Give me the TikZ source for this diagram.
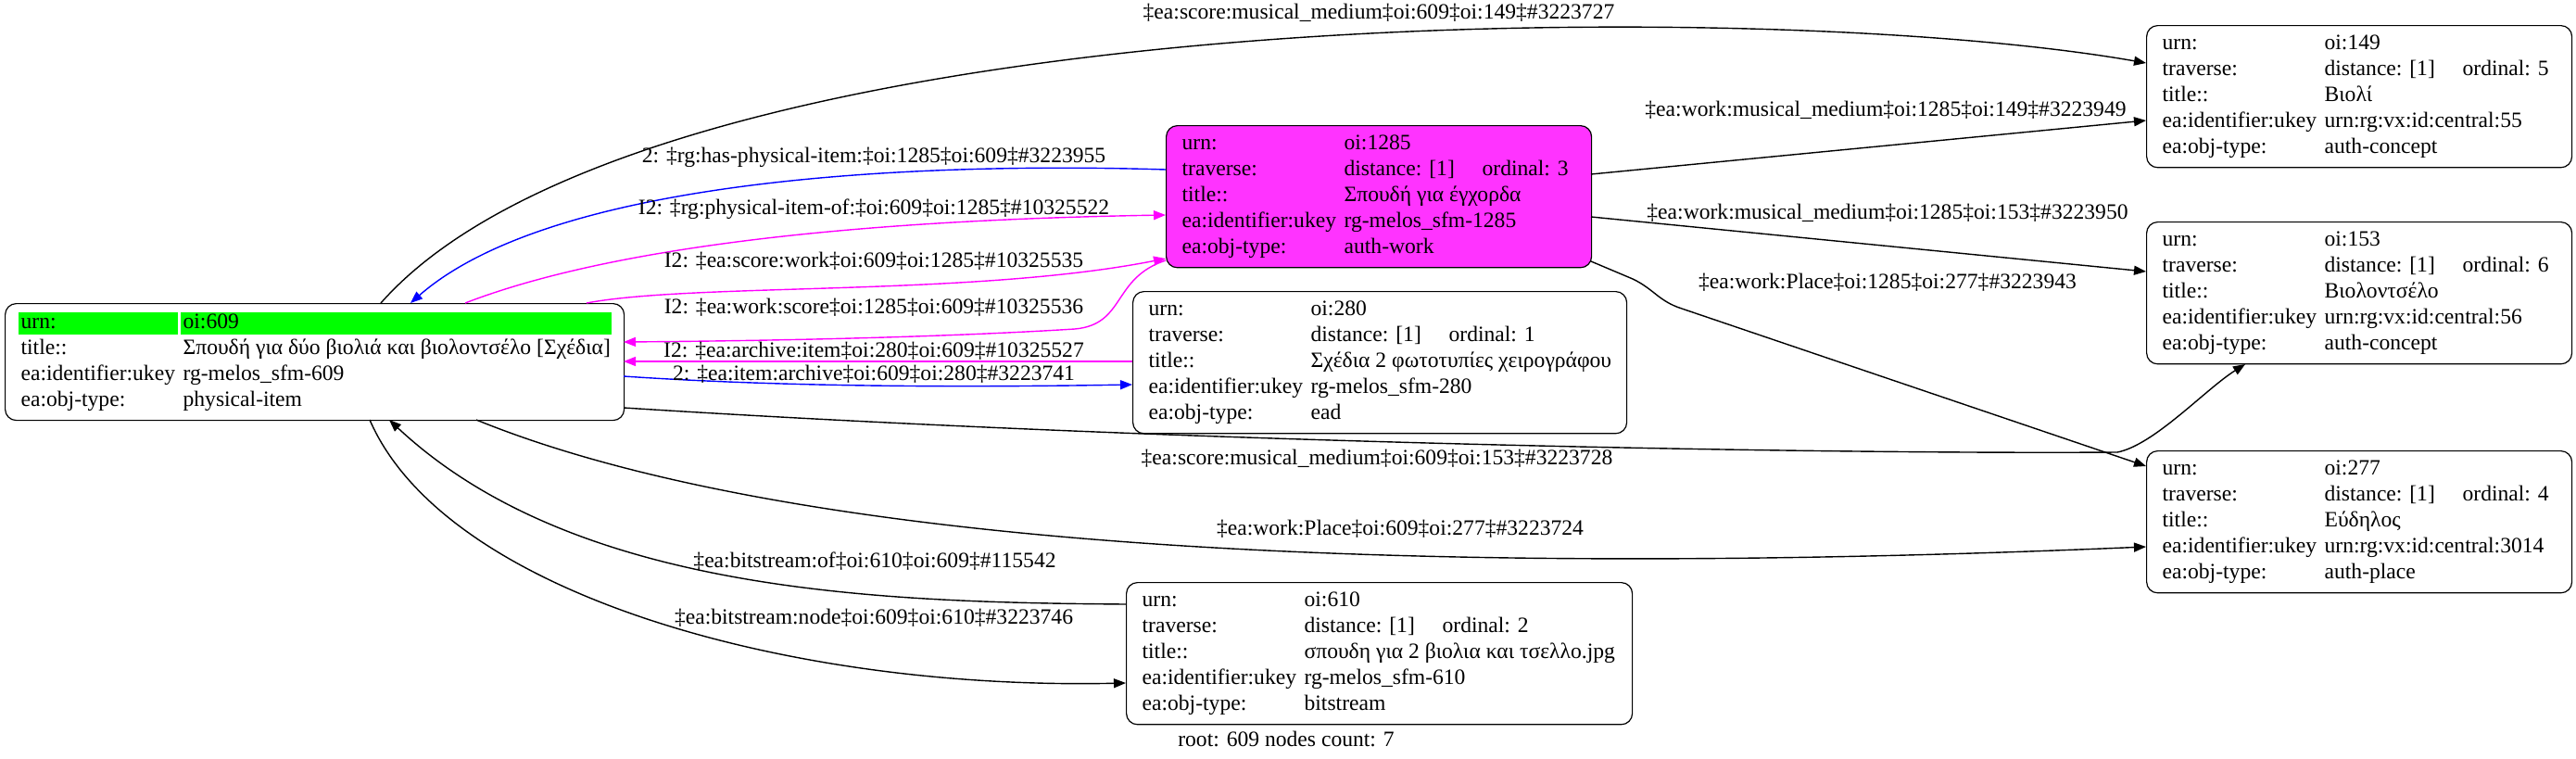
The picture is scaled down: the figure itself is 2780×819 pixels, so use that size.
\documentclass[tikz,border=0pt]{standalone}
\usepackage{fontspec}
\setmainfont{Liberation Serif}
\usepackage{array}
\usepackage{tikz}
\usetikzlibrary{calc,arrows.meta}
\definecolor{urngreen}{HTML}{00FF00}
\definecolor{workpink}{HTML}{FF33FF}
\definecolor{linkpink}{HTML}{FF00FF}
\definecolor{linkblue}{HTML}{0000FF}
\newcommand{\travrow}[1]{\makebox[74.5pt][l]{distance: [1]}ordinal: #1}
\newcommand{\greencell}[2]{{\fboxsep=0pt\colorbox{urngreen}{\makebox[#1][l]{\hspace*{1.5pt}\rule[-3.5pt]{0pt}{12pt}#2}}}}

\begin{document}
\begin{tikzpicture}[x=0.5pt,y=-0.5pt,
    record/.style={draw, rounded corners=6pt, line width=0.6pt, anchor=north west,
      inner xsep=8.5pt, inner ysep=3.3pt, font=\fontsize{11.8}{14}\selectfont},
    elabel/.style={inner sep=0pt, font=\fontsize{11.8}{14}\selectfont},
    link/.style={line width=0.7pt, -{Triangle[length=6.5pt,width=5pt]}}]
                \useasboundingbox (0,0) rectangle (2780,819);

                % Root record
                \node[record, inner xsep=7pt, inner ysep=3.5pt] (n609) at (5,327) {%
                  \begin{tabular}{@{}w{l}{86pt}@{\hspace{1.5pt}}w{l}{232.5pt}@{}}
                    \greencell{86pt}{urn:} & \greencell{232.5pt}{oi:609}\\
                    \hspace*{1.5pt}title:: & \hspace*{1.5pt}Σπουδή για δύο βιολιά και βιολοντσέλο [Σχέδια]\\
                    \hspace*{1.5pt}ea:identifier:ukey & \hspace*{1.5pt}rg-melos\_sfm-609\\
                    \hspace*{1.5pt}ea:obj-type: & \hspace*{1.5pt}physical-item
                  \end{tabular}};

                % Linked records
                \node[record, fill=workpink] (n1285) at (1258,135) {%
                  \begin{tabular}{@{}w{l}{87.5pt}@{}w{l}{125pt}@{}}
                    urn: & oi:1285\\
                    traverse: & \travrow{3}\\
                    title:: & Σπουδή για έγχορδα\\
                    ea:identifier:ukey & rg-melos\_sfm-1285\\
                    ea:obj-type: & auth-work
                  \end{tabular}};
                \node[record] (n280) at (1222,314) {%
                  \begin{tabular}{@{}w{l}{87.5pt}@{}w{l}{162pt}@{}}
                    urn: & oi:280\\
                    traverse: & \travrow{1}\\
                    title:: & Σχέδια 2 φωτοτυπίες χειρογράφου\\
                    ea:identifier:ukey & rg-melos\_sfm-280\\
                    ea:obj-type: & ead
                  \end{tabular}};
                \node[record] (n610) at (1215,628) {%
                  \begin{tabular}{@{}w{l}{87.5pt}@{}w{l}{168.5pt}@{}}
                    urn: & oi:610\\
                    traverse: & \travrow{2}\\
                    title:: & σπουδη για 2 βιολια και τσελλο.jpg\\
                    ea:identifier:ukey & rg-melos\_sfm-610\\
                    ea:obj-type: & bitstream
                  \end{tabular}};
                \node[record] (n149) at (2316,27) {%
                  \begin{tabular}{@{}w{l}{87.5pt}@{}w{l}{125pt}@{}}
                    urn: & oi:149\\
                    traverse: & \travrow{5}\\
                    title:: & Βιολί\\
                    ea:identifier:ukey & urn:rg:vx:id:central:55\\
                    ea:obj-type: & auth-concept
                  \end{tabular}};
                \node[record] (n153) at (2316,239) {%
                  \begin{tabular}{@{}w{l}{87.5pt}@{}w{l}{125pt}@{}}
                    urn: & oi:153\\
                    traverse: & \travrow{6}\\
                    title:: & Βιολοντσέλο\\
                    ea:identifier:ukey & urn:rg:vx:id:central:56\\
                    ea:obj-type: & auth-concept
                  \end{tabular}};
                \node[record] (n277) at (2316,486) {%
                  \begin{tabular}{@{}w{l}{87.5pt}@{}w{l}{125pt}@{}}
                    urn: & oi:277\\
                    traverse: & \travrow{4}\\
                    title:: & Εύδηλος\\
                    ea:identifier:ukey & urn:rg:vx:id:central:3014\\
                    ea:obj-type: & auth-place
                  \end{tabular}};

                % Links between 609 and 1285
                \draw[link, linkblue] ($(n1285.north west)+(0,48)$) .. controls (1000,175) and (600,190) .. ($(n609.north west)+(438,0)$);
                \draw[link, linkpink] ($(n609.north west)+(497,0)$) .. controls (650,270) and (900,238) .. ($(n1285.north west)+(0,97)$);
                \draw[link, linkpink] ($(n609.north west)+(628,0)$) .. controls (750,305) and (1050,320) .. ($(n1285.north west)+(0,144)$);
                \draw[link, linkpink] ($(n1285.north west)+(0,146)$) .. controls (1200,300) and (1215,350) .. (1160,355)
                    .. controls (1000,365) and (800,368) .. ($(n609.north west)+(668,42)$);

                % Links between 609 and 280
                \draw[link, linkpink] ($(n280.north west)+(0,76)$) -- ($(n609.north west)+(668,63)$);
                \draw[link, linkblue] ($(n609.north west)+(668,79)$) .. controls (850,418) and (1050,418) .. ($(n280.north west)+(0,101)$);

                % Links out of 1285
                \draw[link] ($(n1285.north west)+(459,53)$) -- ($(n149.north west)+(0,103)$);
                \draw[link] ($(n1285.north west)+(459,99)$) -- ($(n153.north west)+(0,54)$);
                \draw[link] ($(n1285.north west)+(459,147)$) -- (1762,301) .. controls (1785,312) and (1790,325) .. (1815,333)
                    -- ($(n277.north west)+(0,17)$);

                % Links out of 609
                \draw[link] ($(n609.north west)+(406,0)$) .. controls (700,0) and (1900,-5) .. ($(n149.north west)+(0,41)$);
                \draw[link] ($(n609.north west)+(668,113)$) .. controls (1300,480) and (2000,490) .. (2285,488)
                    .. controls (2325,480) and (2380,420) .. ($(n153.north west)+(107,154)$);
                \draw[link] ($(n609.north west)+(509,126)$) .. controls (850,590) and (1500,625) .. ($(n277.north west)+(0,104)$);

                % Links between 609 and 610
                \draw[link] ($(n610.north west)+(0,24)$) .. controls (950,650) and (620,640) .. ($(n609.north west)+(415,126)$);
                \draw[link] ($(n609.north west)+(394,126)$) .. controls (480,640) and (850,745) .. ($(n610.north west)+(0,109)$);

                % Labels
                \node[elabel] (lab1) at (1488,14) {‡ea:score:musical\_medium‡oi:609‡oi:149‡\#3223727};
                \node[elabel] (lab2) at (943,170) {2: ‡rg:has-physical-item:‡oi:1285‡oi:609‡\#3223955};
                \node[elabel] (lab3) at (943,226) {I2: ‡rg:physical-item-of:‡oi:609‡oi:1285‡\#10325522};
                \node[elabel] (lab4) at (943,282) {I2: ‡ea:score:work‡oi:609‡oi:1285‡\#10325535};
                \node[elabel] (lab5) at (943,332) {I2: ‡ea:work:score‡oi:1285‡oi:609‡\#10325536};
                \node[elabel] (lab6) at (943,379) {I2: ‡ea:archive:item‡oi:280‡oi:609‡\#10325527};
                \node[elabel] (lab7) at (943,404) {2: ‡ea:item:archive‡oi:609‡oi:280‡\#3223741};
                \node[elabel] (lab8) at (2035,119) {‡ea:work:musical\_medium‡oi:1285‡oi:149‡\#3223949};
                \node[elabel] (lab9) at (2037,230) {‡ea:work:musical\_medium‡oi:1285‡oi:153‡\#3223950};
                \node[elabel] (lab10) at (2037,305) {‡ea:work:Place‡oi:1285‡oi:277‡\#3223943};
                \node[elabel] (lab11) at (1486,495) {‡ea:score:musical\_medium‡oi:609‡oi:153‡\#3223728};
                \node[elabel] (lab12) at (1511,571) {‡ea:work:Place‡oi:609‡oi:277‡\#3223724};
                \node[elabel] (lab13) at (944,606) {‡ea:bitstream:of‡oi:610‡oi:609‡\#115542};
                \node[elabel] (lab14) at (943,667) {‡ea:bitstream:node‡oi:609‡oi:610‡\#3223746};
                \node[elabel] (root) at (1388,797) {root: 609 nodes count: 7};
            \end{tikzpicture}
\end{document}
